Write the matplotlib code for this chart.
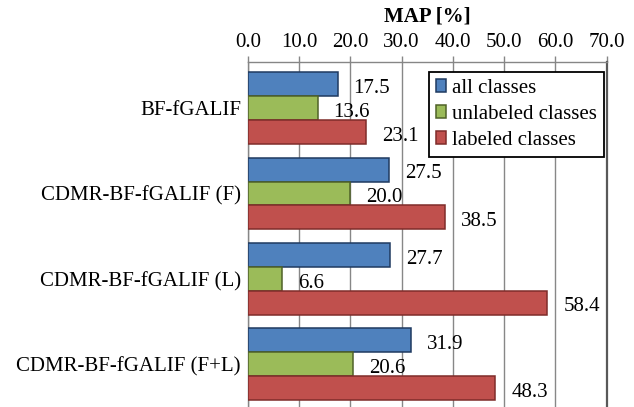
import numpy as np
import matplotlib.pyplot as plt

plt.rcParams['font.family'] = ['Liberation Serif', 'DejaVu Serif']
plt.rcParams['font.size'] = 15

methods = ['BF-fGALIF', 'CDMR-BF-fGALIF (F)', 'CDMR-BF-fGALIF (L)', 'CDMR-BF-fGALIF (F+L)']
series = ['all classes', 'unlabeled classes', 'labeled classes']
all_classes = [17.5, 27.5, 27.7, 31.9]
unlabeled = [13.6, 20.0, 6.6, 20.6]
labeled = [23.1, 38.5, 58.4, 48.3]
xticks = [0, 10, 20, 30, 40, 50, 60, 70]

faces = ['#4F81BD', '#9BBB59', '#C0504D']
edges = ['#1F3A60', '#4F6228', '#7F2C2A']

fig = plt.figure(figsize=(6.34, 4.07), dpi=100)
ax = fig.add_axes([0.391, 0.0, 0.566, 0.8477])

y = np.arange(len(methods))
h = 0.28
for k, (vals, name) in enumerate(zip([all_classes, unlabeled, labeled], series)):
    pos = y + (k - 1) * h
    ax.barh(pos, vals, height=h, color=faces[k], edgecolor=edges[k],
            linewidth=1.1, label=name, zorder=3)
    for p, v in zip(pos, vals):
        ax.annotate(f'{v:.1f}', (v, p), xytext=(11.5, -3),
                    textcoords='offset points', ha='left', va='center',
                    fontsize=15, zorder=4)

ax.set_xlim(0, 70)
ax.set_ylim(3.5, -0.54)
ax.set_xticks(xticks)
ax.set_xticklabels([f'{t:.1f}' for t in xticks])
ax.set_yticks(y)
ax.set_yticklabels(methods)

ax.xaxis.tick_top()
ax.xaxis.set_label_position('top')
ax.set_xlabel('MAP [%]', fontweight='bold', labelpad=8)
ax.tick_params(axis='x', direction='out', length=4.5, width=1, color='#868686', pad=3)
ax.tick_params(axis='y', length=0, pad=5)

ax.grid(axis='x', color='#878787', linewidth=1.0, zorder=0)
ax.set_axisbelow(True)
for side in ['top', 'left']:
    ax.spines[side].set_color('#868686')
    ax.spines[side].set_linewidth(1.0)
ax.spines['bottom'].set_visible(False)
ax.spines['right'].set_color('#595959')
ax.spines['right'].set_linewidth(1.6)

leg = ax.legend(loc='upper right', bbox_to_anchor=(0.993, 0.972), fontsize=15,
                frameon=True, fancybox=False, handlelength=0.45, handleheight=0.55,
                handletextpad=0.3, labelspacing=0.33, borderpad=0.35,
                borderaxespad=0)
leg.get_frame().set_edgecolor('black')
leg.get_frame().set_linewidth(1.3)
leg.get_frame().set_alpha(1)

fig.savefig('out.png', dpi=100)
